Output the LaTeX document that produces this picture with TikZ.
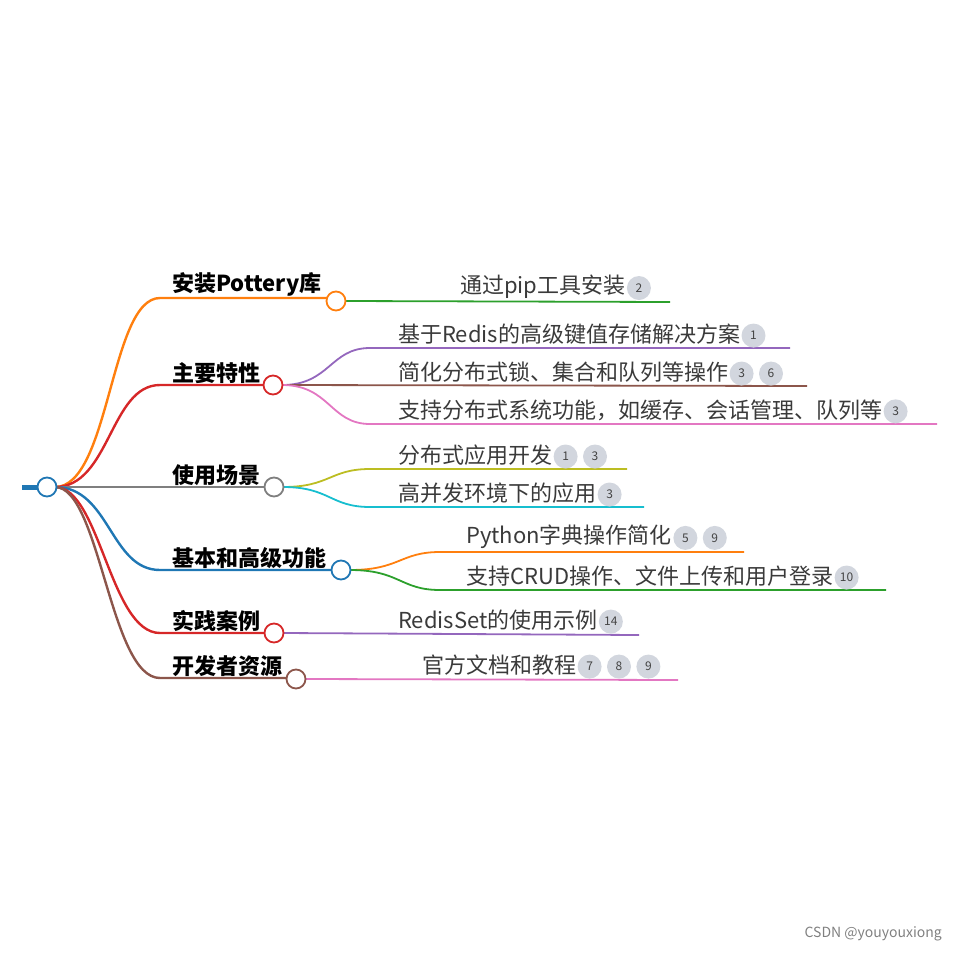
\documentclass[tikz,border=0pt]{standalone}
\usepackage{fontspec}
\usetikzlibrary{calc}
\setmainfont{Noto Sans CJK SC}
\definecolor{cOr}{HTML}{FF7F0E}\definecolor{cRd}{HTML}{D62728}\definecolor{cGy}{HTML}{7F7F7F}
\definecolor{cBl}{HTML}{1F77B4}\definecolor{cBr}{HTML}{8C564B}\definecolor{cGn}{HTML}{2CA02C}
\definecolor{cPu}{HTML}{9467BD}\definecolor{cPk}{HTML}{E377C2}\definecolor{cOl}{HTML}{BCBD22}
\definecolor{cCy}{HTML}{17BECF}\definecolor{cBadge}{HTML}{D2D6DE}
\tikzset{
 br/.style={line width=2.4pt},
 lf/.style={line width=1.8pt},
 knob/.style={circle,draw,line width=1.8pt,fill=white,minimum size=19pt,inner sep=0pt},
 lbl/.style={anchor=south west,inner sep=0pt,font=\fontsize{22}{24}\selectfont\bfseries},
 txt/.style={anchor=south west,inner sep=0pt,font=\fontsize{22}{24}\selectfont\color[HTML]{3A3A3A}},
 badge/.style={circle,fill=cBadge,minimum size=24pt,inner sep=0pt,font=\fontsize{12}{12}\selectfont\color[HTML]{444444}}
}
\newcommand{\bdg}[3]{\node[badge,anchor=west] (#1) at (#2) {#3};}
\begin{document}
\begin{tikzpicture}[x=1pt,y=-1pt]
\useasboundingbox (0,0) rectangle (958,953);
\coordinate (r) at (55,487);
% branches
\draw[br,cOr] (r) .. controls (110,487) and (110,298) .. (160,298) -- (327,298);
\draw[br,cRd] (r) .. controls (110,487) and (110,385) .. (160,385) -- (264,385);
\draw[br,cGy] (r) -- (265,487);
\draw[br,cBl] (r) .. controls (110,487) and (110,570) .. (160,570) -- (332,570);
\draw[br,cRd] (r) .. controls (100,487) and (110,633) .. (160,633) -- (265,633);
\draw[br,cBr] (r) .. controls (100,487) and (110,678) .. (160,678) -- (287,678);
\draw[line width=5pt,cBl] (22,487) -- (40,487);
\node[knob,draw=cBl] (root) at (47,487) {};
\node[lbl] (b1) at (172,297) {安装Pottery库};
\node[lbl] (b2) at (172,384) {主要特性};
\node[lbl] (b3) at (172,486) {使用场景};
\node[lbl] (b4) at (172,569) {基本和高级功能};
\node[lbl] (b5) at (172,632) {实践案例};
\node[lbl] (b6) at (172,677) {开发者资源};
% children lines
\draw[lf,cGn] (345,301) -- (670,302);
\draw[lf,cPu] (282,385) .. controls (330,385) and (330,348) .. (370,348) -- (790,348);
\draw[lf,cBr] (282,385) -- (807,386);
\draw[lf,cPk] (282,385) .. controls (330,385) and (330,424) .. (370,424) -- (937,424);
\draw[lf,cOl] (283,487) .. controls (330,487) and (330,469) .. (370,469) -- (627,469);
\draw[lf,cCy] (283,487) .. controls (330,487) and (330,507) .. (370,507) -- (644,507);
\draw[lf,cOr] (350,570) .. controls (400,570) and (400,552) .. (440,552) -- (744,552);
\draw[lf,cGn] (350,570) .. controls (400,570) and (400,590) .. (440,590) -- (886,590);
\draw[lf,cPu] (283,633) -- (639,635);
\draw[lf,cPk] (305,679) -- (678,680);
\node[knob,draw=cOr] (k1) at (336,301) {};
\node[knob,draw=cRd] (k2) at (273,385) {};
\node[knob,draw=cGy] (k3) at (274,487) {};
\node[knob,draw=cBl] (k4) at (341,570) {};
\node[knob,draw=cRd] (k5) at (274,633) {};
\node[knob,draw=cBr] (k6) at (296,679) {};
% child texts
\node[txt] (t1) at (460,299) {通过pip工具安装}; \bdg{a1}{$(t1.east)+(1,1)$}{2}
\node[txt] (t2) at (398,345) {基于Redis的高级键值存储解决方案}; \bdg{a2}{$(t2.east)+(1,1)$}{1}
\node[txt] (t3) at (398,383) {简化分布式锁、集合和队列等操作}; \bdg{a3}{$(t3.east)+(1,1)$}{3}\bdg{a4}{$(a3.east)+(5,0)$}{6}
\node[txt] (t4) at (398,421) {支持分布式系统功能，如缓存、会话管理、队列等}; \bdg{a5}{$(t4.east)+(1,1)$}{3}
\node[txt] (t5) at (398,466) {分布式应用开发}; \bdg{a6}{$(t5.east)+(1,1)$}{1}\bdg{a7}{$(a6.east)+(5,0)$}{3}
\node[txt] (t6) at (398,504) {高并发环境下的应用}; \bdg{a8}{$(t6.east)+(1,1)$}{3}
\node[txt] (t7) at (466,549) {Python字典操作简化}; \bdg{a9}{$(t7.east)+(1,1)$}{5}\bdg{a10}{$(a9.east)+(5,0)$}{9}
\node[txt] (t8) at (466,587) {支持CRUD操作、文件上传和用户登录}; \bdg{a11}{$(t8.east)+(1,1)$}{10}
\node[txt] (t9) at (398,631) {RedisSet的使用示例}; \bdg{a12}{$(t9.east)+(1,1)$}{14}
\node[txt] (t10) at (422,676) {官方文档和教程}; \bdg{a13}{$(t10.east)+(1,1)$}{7}\bdg{a14}{$(a13.east)+(5,0)$}{8}\bdg{a15}{$(a14.east)+(5,0)$}{9}
\node[anchor=east,inner sep=0pt,font=\fontsize{14}{16}\selectfont,text=gray] (wm) at (942,934) {CSDN @youyouxiong};
\end{tikzpicture}
\end{document}
